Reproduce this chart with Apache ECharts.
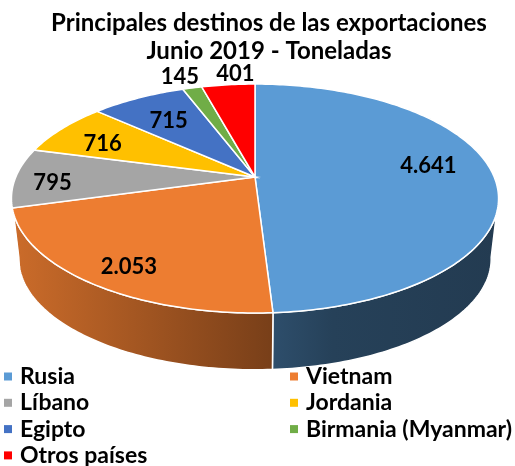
<!DOCTYPE html>
<html><head><meta charset="utf-8">
<style>html,body{margin:0;padding:0;background:#fff}#c{width:515px;height:466px}</style>
<script src="https://cdn.jsdelivr.net/npm/echarts@6/dist/echarts.min.js"></script>
</head><body><div id="c"></div>
<script>
const titleLines = ['Principales destinos de las exportaciones', 'Junio 2019 - Toneladas'];
const categories = ['Rusia', 'Vietnam', 'Líbano', 'Jordania', 'Egipto', 'Birmania (Myanmar)', 'Otros países'];
const values = [4641, 2053, 795, 716, 715, 145, 401];
const colors = ['#5B9BD5', '#ED7D31', '#A5A5A5', '#FFC000', '#4472C4', '#70AD47', '#FF0000'];
const legendLeft = ['Rusia', 'Líbano', 'Egipto', 'Otros países'];
const legendRight = ['Vietnam', 'Jordania', 'Birmania (Myanmar)'];
// radial placement of each value label (1 = rim) and a small nudge in px
const labelRadius = [0.72, 0.84, 0.85, 0.78, 0.72, 1.24, 1.22];
const labelNudge = [[2,-9],[8,3],[1,5],[1,5],[1,3],[0,6],[12,6]];

// perspective projection of the disc
const FONT = 'Lato, "Open Sans", sans-serif';
const CX = 255, P = 0.188;
const TOP = {cy: 177, a: 239.2, b: 110.4};
const BOT = {cy: 238, a: 232, b: 107};
const WALL_FROM = 100, WALL_TO = 260;
const WALL_SHADE = [[0, .86], [0.5, .53], [0.66, .42], [1, .38]];

const total = values.reduce((s, v) => s + v, 0);
const starts = []; values.reduce((s, v, i) => (starts[i] = s, s + v), 0);
const deg = v => v / total * 360;
function proj(f, th, r = 1) {
  const t = th * Math.PI / 180, u = r * Math.sin(t), v = r * Math.cos(t), w = 1 + P * v;
  return [CX + f.a * u / w, f.cy - f.b * v / w];
}
function arc(f, a0, a1) {
  const pts = [], n = Math.max(2, Math.ceil(Math.abs(a1 - a0)));
  for (let i = 0; i <= n; i++) pts.push(proj(f, a0 + (a1 - a0) * i / n));
  return pts;
}
function shade(hex) {
  const c = [1, 3, 5].map(i => parseInt(hex.substr(i, 2), 16));
  return WALL_SHADE.map(([o, m]) => ({offset: o, color: `rgb(${c.map(x => Math.round(x * m)).join(',')})`}));
}
function fmt(v) { return String(v).replace(/\B(?=(\d{3})+$)/g, '.'); }

const series = [];
categories.forEach((name, i) => {
  series.push({
    type: 'custom', name, coordinateSystem: 'none', z: 1, silent: true,
    itemStyle: {color: colors[i]}, data: [[values[i]]],
    renderItem: (p, api) => {
      const a0 = deg(starts[i]), a1 = a0 + deg(api.value(0));
      const s = Math.max(a0, WALL_FROM), e = Math.min(a1, WALL_TO);
      if (e <= s) return {type: 'group', children: []};
      const points = arc(TOP, s, e).concat(arc(BOT, e, s));
      return {type: 'polygon', shape: {points}, style: {
        fill: new echarts.graphic.LinearGradient(11, 0, 498, 0, shade(colors[i]), true),
        stroke: '#fff', lineWidth: 1.5}};
    }
  });
  series.push({
    type: 'custom', name, coordinateSystem: 'none', z: 2, silent: true,
    itemStyle: {color: colors[i]}, data: [[values[i]]],
    renderItem: (p, api) => {
      const val = api.value(0), a0 = deg(starts[i]), a1 = a0 + deg(val);
      const points = [proj(TOP, 0, 0)].concat(arc(TOP, a0, a1));
      const c = proj(TOP, (a0 + a1) / 2, labelRadius[i]);
      return {type: 'group', children: [
        {type: 'polygon', shape: {points}, style: {fill: colors[i], stroke: '#fff', lineWidth: 1.5}},
        {type: 'text', z2: 10, style: {text: fmt(val), x: c[0] + labelNudge[i][0], y: c[1] + labelNudge[i][1],
          fill: '#000', font: 'bold 22px ' + FONT, align: 'center', verticalAlign: 'middle'}}
      ]};
    }
  });
});
const legendBase = {orient: 'vertical', icon: 'rect', itemWidth: 8, itemHeight: 8, itemGap: 3.3, top: 365, height: 200,
  selectedMode: false, padding: 0, textStyle: {fontFamily: FONT, fontWeight: 'bold', fontSize: 23, color: '#000', lineHeight: 20, padding: [0, 0, 0, 3]}};
const chart = echarts.init(document.getElementById('c'), null, {renderer: 'canvas'});
chart.setOption({
  animation: false,
  backgroundColor: '#fff',
  title: {text: titleLines.join('\n'), left: 269, textAlign: 'center', top: 9, padding: 0,
    textStyle: {fontFamily: FONT, fontWeight: 'bold', fontSize: 24, color: '#000', lineHeight: 28}},
  legend: [
    Object.assign({}, legendBase, {left: 4, data: legendLeft}),
    Object.assign({}, legendBase, {left: 290, data: legendRight})
  ],
  series
});
</script></body></html>
